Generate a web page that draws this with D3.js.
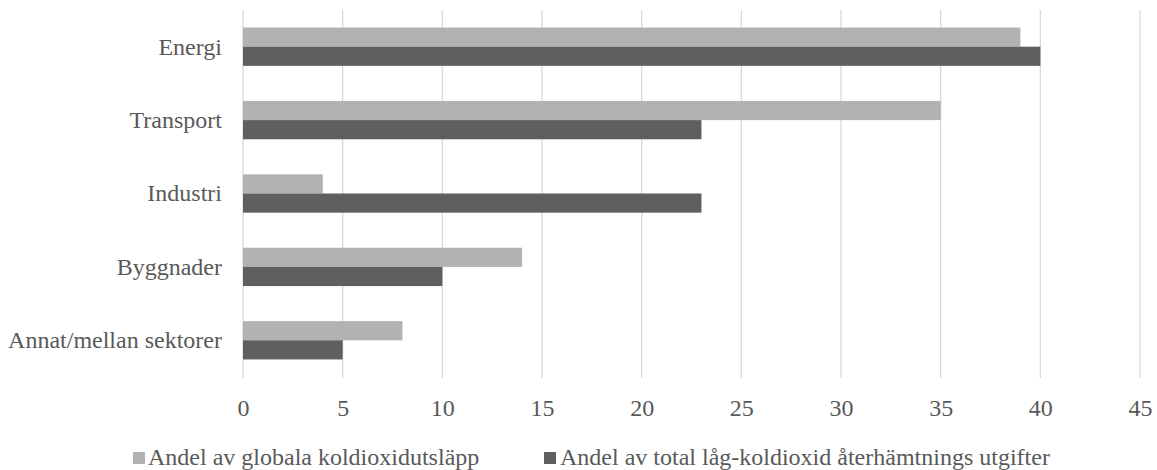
<!DOCTYPE html>
<html>
<head>
<meta charset="utf-8">
<script src="https://cdn.jsdelivr.net/npm/d3@7"></script>
<style>
  html, body { margin: 0; padding: 0; background: #fff; }
  svg { display: block; }
  text { font-family: "Liberation Serif", "Times New Roman", serif; fill: #595959; }
</style>
</head>
<body>
<svg id="chart" width="1157" height="470"></svg>
<script>
// Sectors, top to bottom
const categories = ["Energi", "Transport", "Industri", "Byggnader", "Annat/mellan sektorer"];
// Share of global CO2 emissions (%)
const emissionsShare = [39, 35, 4, 14, 8];
// Share of total low-carbon recovery spending (%)
const spendingShare = [40, 23, 23, 10, 5];
const seriesNames = ["Andel av globala koldioxidutsläpp", "Andel av total låg-koldioxid återhämtnings utgifter"];
const xTicks = [0, 5, 10, 15, 20, 25, 30, 35, 40, 45];

const colors = ["#b2b2b2", "#5f5f5f"];
const fontSize = "24px";
const W = 1157, H = 470;
const margin = { top: 10, right: 17, bottom: 93, left: 243 };
const innerW = W - margin.left - margin.right;
const innerH = H - margin.top - margin.bottom;

const svg = d3.select("#chart");
const g = svg.append("g").attr("transform", `translate(${margin.left},${margin.top})`);

const x = d3.scaleLinear().domain([0, 45]).range([0, innerW]);
const y = d3.scaleBand().domain(categories).range([0, innerH]).paddingInner(0.478).paddingOuter(0.239);
const ySub = d3.scaleBand().domain([0, 1]).range([0, y.bandwidth()]);

// vertical gridlines
g.append("g").selectAll("line").data(xTicks).join("line")
  .attr("x1", d => x(d)).attr("x2", d => x(d))
  .attr("y1", 0).attr("y2", innerH + 1)
  .attr("stroke", "#d9d9d9").attr("stroke-width", 1.3);

// bars
const rows = categories.map((c, i) => ({ c, vals: [emissionsShare[i], spendingShare[i]] }));
const grp = g.append("g").selectAll("g").data(rows).join("g")
  .attr("transform", d => `translate(0,${y(d.c)})`);
grp.selectAll("rect").data(d => d.vals.map((v, k) => ({ v, k }))).join("rect")
  .attr("x", x(0))
  .attr("y", d => ySub(d.k))
  .attr("width", d => x(d.v) - x(0))
  .attr("height", ySub.bandwidth())
  .attr("fill", d => colors[d.k]);

// x axis tick labels
const xAxis = d3.axisBottom(x).tickValues(xTicks).tickSize(0).tickPadding(0);
const xa = g.append("g").attr("transform", `translate(0,${innerH})`).call(xAxis);
xa.select(".domain").remove();
xa.selectAll("text")
  .attr("dy", null).attr("y", 39)
  .style("font-size", fontSize).style("font-family", "'Liberation Serif', serif").attr("fill", "#595959");

// category labels
const yAxis = d3.axisLeft(y).tickSize(0).tickPadding(21);
const ya = g.append("g").call(yAxis);
ya.select(".domain").remove();
ya.selectAll("text")
  .attr("dy", "0.33em")
  .style("font-size", fontSize).style("font-family", "'Liberation Serif', serif").attr("fill", "#595959");

// legend
const legendItems = [{ sx: 133, tx: 148 }, { sx: 544, tx: 560 }];
const lg = svg.append("g");
legendItems.forEach((p, k) => {
  lg.append("rect").attr("x", p.sx).attr("y", 452).attr("width", 12).attr("height", 12).attr("fill", colors[k]);
  lg.append("text").attr("x", p.tx).attr("y", 465).style("font-size", fontSize).text(seriesNames[k]);
});
</script>
</body>
</html>
